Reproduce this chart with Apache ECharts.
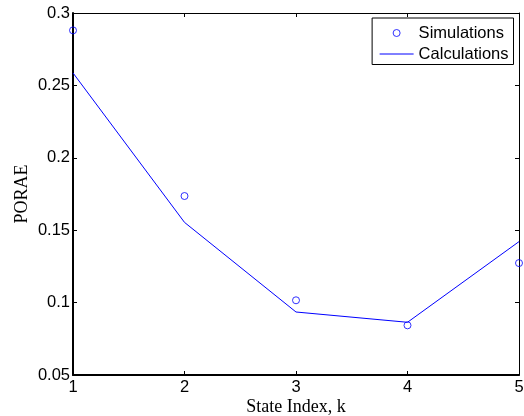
<!DOCTYPE html>
<html>
<head>
<meta charset="utf-8">
<script src="https://cdn.jsdelivr.net/npm/echarts@6/dist/echarts.min.js"></script>
<style>
html,body{margin:0;padding:0;background:#fff;}
#chart{width:524px;height:416px;}
</style>
</head>
<body>
<div id="chart"></div>
<script>
var stateIndex = [1, 2, 3, 4, 5];
var simulations = [0.288, 0.1736, 0.1016, 0.0843, 0.1273];
var calculations = [0.2586, 0.1554, 0.0935, 0.0864, 0.1421];
var xTickLabels = ['1', '2', '3', '4', '5'];
var yTickLabels = ['0.05', '0.1', '0.15', '0.2', '0.25', '0.3'];

var SANS = 'Liberation Sans';
var SERIF = 'Liberation Serif';
var BLUE = '#0000ff';

function pairs(xs, ys) {
  return xs.map(function (x, i) { return [x, ys[i]]; });
}

var chart = echarts.init(document.getElementById('chart'), null, {renderer: 'canvas'});
chart.setOption({
  backgroundColor: '#fff',
  animation: false,
  grid: {left: 73, right: 5, top: 13, bottom: 41, containLabel: false, outerBoundsMode: 'none'},
  legend: {
    orient: 'vertical',
    right: 10.5,
    top: 18,
    align: 'left',
    padding: [6.5, 5, 2, 7],
    itemGap: 4,
    itemWidth: 34,
    itemHeight: 7,
    backgroundColor: '#fff',
    borderColor: '#000',
    borderWidth: 1,
    borderRadius: 0,
    itemStyle: {borderWidth: 1},
    lineStyle: {width: 1},
    textStyle: {fontFamily: SANS, fontSize: 16.5, color: '#000', padding: [0, 0, 0, 0]},
    data: [
      {name: 'Simulations', icon: 'circle'},
      {name: 'Calculations', itemStyle: {opacity: 0}}
    ]
  },
  xAxis: [{
    type: 'value', min: 1, max: 5, interval: 1, position: 'bottom',
    name: 'State Index, k', nameLocation: 'middle', nameGap: 23.5, nameMoveOverlap: false,
    nameTextStyle: {fontFamily: SERIF, fontSize: 18, color: '#000'},
    axisLine: {show: true, onZero: false, lineStyle: {color: '#000', width: 2}},
    axisTick: {show: true, inside: true, length: 4, lineStyle: {color: '#000', width: 1}},
    axisLabel: {show: true, margin: 4, fontFamily: SANS, fontSize: 16.5, color: '#000',
      formatter: function (v) { return xTickLabels[stateIndex.indexOf(v)] || ''; }},
    splitLine: {show: false}
  }, {
    type: 'value', min: 1, max: 5, interval: 1, position: 'top',
    axisLine: {show: true, onZero: false, lineStyle: {color: '#000', width: 1}},
    axisTick: {show: true, inside: true, length: 4, lineStyle: {color: '#000', width: 1}},
    axisLabel: {show: false},
    splitLine: {show: false}
  }],
  yAxis: [{
    type: 'value', min: 0.05, max: 0.3, interval: 0.05, position: 'left',
    name: 'PORAE', nameLocation: 'middle', nameGap: 42, nameRotate: 90, nameMoveOverlap: false,
    nameTextStyle: {fontFamily: SERIF, fontSize: 18, color: '#000'},
    axisLine: {show: true, onZero: false, lineStyle: {color: '#000', width: 2}},
    axisTick: {show: true, inside: true, length: 4, lineStyle: {color: '#000', width: 1}},
    axisLabel: {show: true, margin: 3, fontFamily: SANS, fontSize: 16.5, color: '#000',
      formatter: function (v) {
        var idx = Math.round((v - 0.05) / 0.05);
        return yTickLabels[idx] || '';
      }},
    splitLine: {show: false}
  }, {
    type: 'value', min: 0.05, max: 0.3, interval: 0.05, position: 'right',
    axisLine: {show: true, onZero: false, lineStyle: {color: '#000', width: 1}},
    axisTick: {show: true, inside: true, length: 4, lineStyle: {color: '#000', width: 1}},
    axisLabel: {show: false},
    splitLine: {show: false}
  }],
  series: [{
    name: 'Simulations',
    type: 'scatter',
    xAxisIndex: 0, yAxisIndex: 0,
    symbol: 'circle',
    symbolSize: 7,
    clip: false,
    itemStyle: {color: 'rgba(255,255,255,0)', borderColor: BLUE, borderWidth: 1},
    data: pairs(stateIndex, simulations),
    z: 3
  }, {
    name: 'Calculations',
    type: 'line',
    xAxisIndex: 0, yAxisIndex: 0,
    symbol: 'none',
    clip: false,
    lineStyle: {color: BLUE, width: 1},
    itemStyle: {color: BLUE},
    data: pairs(stateIndex, calculations),
    z: 2
  }]
});
</script>
</body>
</html>
